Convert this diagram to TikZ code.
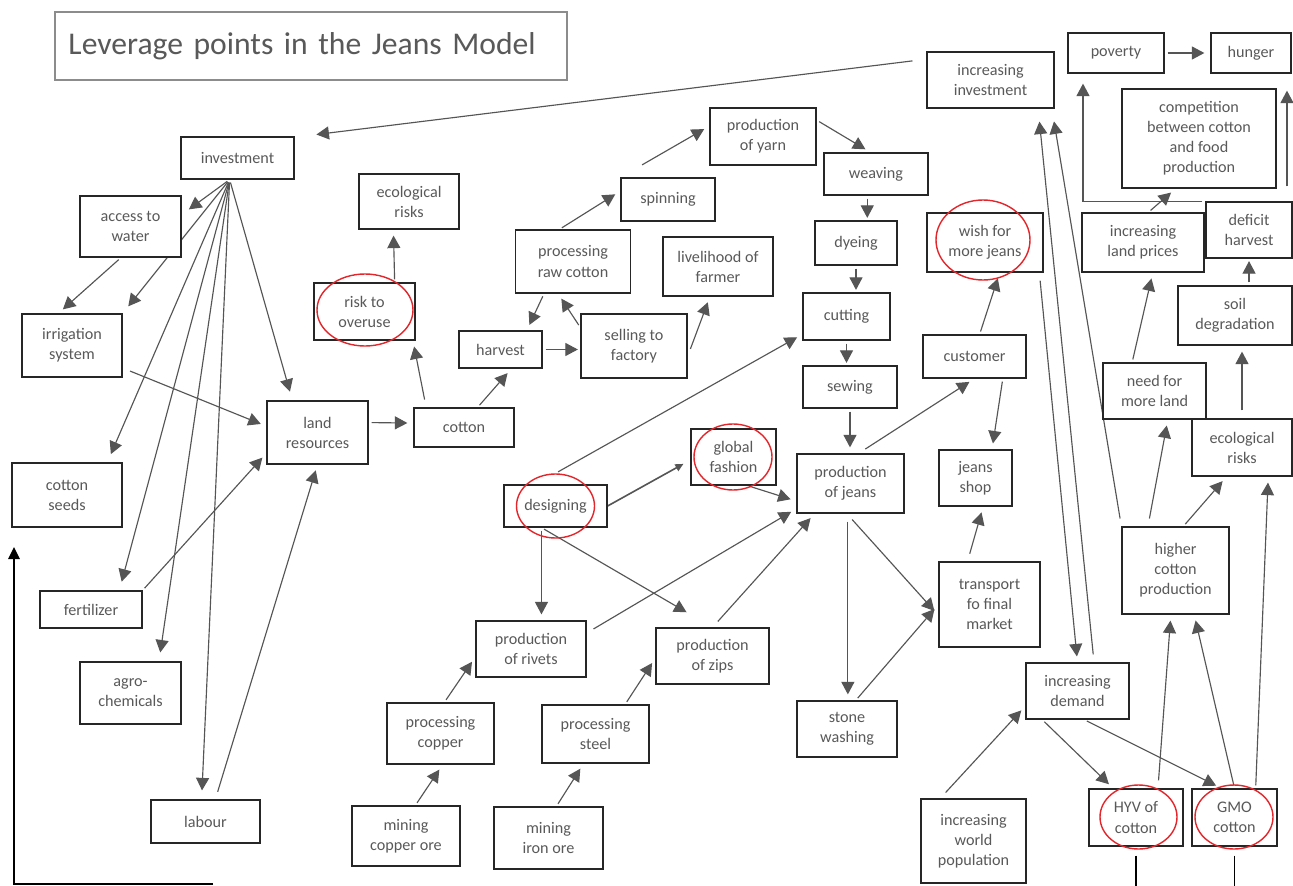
\documentclass[tikz,border=0pt]{standalone}
\usepackage{fontspec}
\setmainfont{Carlito}
\usetikzlibrary{arrows.meta,shapes.geometric,backgrounds}

\definecolor{txtgray}{HTML}{595959}
\definecolor{arrgray}{HTML}{555555}
\definecolor{ringred}{HTML}{E3262B}

\tikzset{
	box/.style={draw=black!85, line width=0.7pt, fill=white, text=txtgray, align=center, inner sep=0pt, font=\fontsize{9.2}{11.4}\selectfont},
	sz/.style 2 args={minimum width=#1*0.2mm, minimum height=#2*0.2mm},
	titlebox/.style={draw=black!45, line width=1.1pt, text=txtgray, font=\fontsize{18}{22}\selectfont, inner xsep=2.6mm, text width=97mm, align=left},
	ring/.style={draw=ringred, line width=0.8pt, ellipse, inner sep=0pt},
	arr/.style={draw=arrgray, line width=0.65pt, -{Triangle[length=2.5mm,width=2.6mm]}, shorten >=1.2mm, shorten <=0.6mm},
	thinarr/.style={draw=arrgray, line width=0.9pt, -{Triangle[length=1.6mm,width=1.5mm]}, shorten >=1.6mm},
	latestart/.style={shorten <=1.6mm},
	closetip/.style={shorten >=0.5mm},
	backarr/.style={draw=black, line width=0.9pt, -{Triangle[length=2.4mm,width=2.3mm]}},
	exitline/.style={draw=black, line width=0.9pt, shorten <=1.8mm},
}

\begin{document}
\begin{tikzpicture}[x=0.2mm, y=-0.2mm]
	\useasboundingbox (0,0) rectangle (1293,886);

	\node[titlebox, sz={512}{68}] (title) at (311,46) {Leverage points in the Jeans Model};

	% farm side
	\node[box, sz={113}{42}] (inv)      at (237.5,158)   {investment};
	\node[box, sz={101}{61}] (water)    at (130.5,226.5) {access to\\water};
	\node[box, sz={100}{63}] (irrig)    at (72,345.5)    {irrigation\\system};
	\node[box, sz={110}{64}] (seeds)    at (67,495)      {cotton\\seeds};
	\node[box, sz={102}{37}] (fert)     at (91,609.5)    {fertilizer};
	\node[box, sz={101}{62}] (agro)     at (130.5,693)   {agro-\\chemicals};
	\node[box, sz={109}{43}] (labour)   at (205.5,821.5) {labour};
	\node[box, sz={101}{63}] (land)     at (317.5,432.5) {land\\resources};
	\node[box, sz={100}{39}] (cotton)   at (464,427.5)   {cotton};
	\node[box, sz={100}{55}] (ecoL)     at (409,201.5)   {ecological\\risks};
	\node[box, sz={101}{57}] (overuse)  at (364.5,311.5) {risk to\\overuse};
	\node[box, sz={83}{37}]  (harvest)  at (500.5,349.5) {harvest};
	\node[box, sz={106}{64}] (sell)     at (634,346)     {selling to\\factory};
	\node[box, sz={115}{63}] (raw)      at (573,261.5)   {processing\\raw cotton};
	\node[box, sz={94}{43}]  (spin)     at (668,199.5)   {spinning};
	\node[box, sz={110}{59}] (liveli)   at (718,266.5)   {livelihood of\\farmer};
	\node[box, sz={106}{57}] (yarn)     at (763,136.5)   {production\\of yarn};

	% factory side
	\node[box, sz={104}{42}] (weave)    at (876,174)     {weaving};
	\node[box, sz={82}{44}]  (dye)      at (856,243)     {dyeing};
	\node[box, sz={87}{47}]  (cut)      at (846.5,316.5) {cutting};
	\node[box, sz={94}{42}]  (sew)      at (850,387)     {sewing};
	\node[box, sz={107}{59}] (jeans)    at (850.5,483.5) {production\\of jeans};
	\node[box, sz={85}{56}]  (fashion)  at (733.5,457)   {global\\fashion};
	\node[box, sz={103}{42}] (design)   at (555.5,506)   {designing};
	\node[box, sz={110}{56}] (rivets)   at (531,649)     {production\\of rivets};
	\node[box, sz={113}{56}] (zips)     at (712.5,656)   {production\\of zips};
	\node[box, sz={107}{61}] (copper)   at (440.5,733.5) {processing\\copper};
	\node[box, sz={107}{58}] (steel)    at (595.5,734)   {processing\\steel};
	\node[box, sz={108}{60}] (mcopper)  at (406,836)     {mining\\copper ore};
	\node[box, sz={109}{62}] (miron)    at (548.5,838)   {mining\\iron ore};
	\node[box, sz={100}{56}] (stone)    at (847,729)     {stone\\washing};
	\node[box, sz={101}{85}] (transp)   at (989.5,604.5) {transport\\fo final\\market};
	\node[box, sz={73}{56}]  (shop)     at (975.5,478)   {jeans\\shop};
	\node[box, sz={103}{43}] (cust)     at (974.5,356.5) {customer};
	\node[box, sz={116}{59}] (wish)     at (985,242.5)   {wish for\\more jeans};

	% market side
	\node[box, sz={127}{56}] (incinv)   at (990.5,80)    {increasing\\investment};
	\node[box, sz={96}{40}]  (poverty)  at (1116,53)     {poverty};
	\node[box, sz={80}{40}]  (hunger)   at (1251,53)     {hunger};
	\node[box, sz={154}{99}] (compet)   at (1199,138.5)  {competition\\between cotton\\and food\\production};
	\node[box, sz={122}{59}] (lprice)   at (1143,242.5)  {increasing\\land prices};
	\node[box, sz={86}{56}]  (deficit)  at (1249,230)    {deficit\\harvest};
	\node[box, sz={114}{59}] (soil)     at (1235,315.5)  {soil\\degradation};
	\node[box, sz={103}{56}] (moreland) at (1154.5,391)  {need for\\more land};
	\node[box, sz={100}{57}] (ecoR)     at (1242,447.5)  {ecological\\risks};
	\node[box, sz={107}{87}] (higher)   at (1175.5,570.5) {higher\\cotton\\production};
	\node[box, sz={103}{56}] (demand)   at (1077.5,691)  {increasing\\demand};
	\node[box, sz={105}{84}] (world)    at (973.5,841)   {increasing\\world\\population};
	\node[box, sz={94}{57}]  (hyv)      at (1136,817.5)  {HYV of\\cotton};
	\node[box, sz={85}{57}]  (gmo)      at (1234.5,817.5) {GMO\\cotton};

	% leverage points
	\node[ring, sz={96}{72}] (overuseRing) at (365,310)    {};
	\node[ring, sz={78}{66}] (fashionRing) at (733,457)    {};
	\node[ring, sz={78}{64}] (designRing)  at (555.5,506)  {};
	\node[ring, sz={94}{80}] (wishRing)    at (983,240)    {};
	\node[ring, sz={77}{64}] (hyvRing)     at (1138.5,817) {};
	\node[ring, sz={78}{64}] (gmoRing)     at (1234,817)   {};

	\coordinate (loopStart) at (213,884);
	\coordinate (loopEnd)   at (14,547);
	\coordinate (bottomEdge) at (0,886);

	\begin{pgfonlayer}{background}
		\fill[white] (0,0) rectangle (1293,886);

		\foreach \v in {water.13, irrig.north east, seeds.39, fert.34, agro.48, labour.100, land.128}  % out of investment
		{	\draw[arr, shorten >=1.8mm] (inv.-110) -- (\v);
		}
		\def\closestart {water.-107/irrig.113, fert.north east/land.-158, land.11/cotton.175, overuse.44/ecoL.-119,
			cotton.56/harvest.-60, raw.-132/harvest.36, sell.161/raw.-115, raw.113/spin.170, yarn.17/weave.104,
			designRing.north/cut.-158, fashion.-64/jeans.-162, copper.83/rivets.-172, steel.45/zips.-178,
			mcopper.73/copper.-86, miron.76/steel.-112, stone.73/transp.west, cust.-38/shop.60, cust.77/wish.-64,
			demand.-141/hyv.128, demand.-77/gmo.114, gmo.north/higher.-67, gmo.54/ecoR.-48, higher.80/ecoR.-118,
			moreland.128/lprice.-72, lprice.80/compet.-115}  % line starts at the box
		\foreach \u/\v in \closestart
		{	\draw[arr] (\u) -- (\v);
		}
		\def\gapstart {irrig.-24/land.173, labour.66/land.south, cotton.152/overuse.-31, sell.-11/liveli.-105,
			rivets.16/jeans.-155, zips.north/jeans.-140, jeans.75/cust.south, jeans.-97/transp.-168,
			hyv.53/higher.-96, higher.122/moreland.-65, transp.117/shop.-75, world.128/demand.-164,
			wish.-29/demand.north}  % line starts away from the box
		\foreach \u/\v in \gapstart
		{	\draw[arr, latestart] (\u) -- (\v);
		}

		\draw[arr, shorten <=5mm] (spin.north west) -- (yarn.169);
		\draw[arr, shorten >=6mm] (design.-123) -- (zips.north);
		\draw[arr] (design.-123) -- (design.-123 |- rivets.north);
		\draw[thinarr] (design.east) -- (fashion.-176);
		\draw[arr, closetip] (harvest.east) -- (harvest.east -| sell.west);

		% straight down the factory
		\draw[arr, closetip] (weave.-112) -- (weave.-112 |- dye.north);
		\draw[arr, closetip] (dye.south) -- (dye.south |- cut.north);
		\draw[arr, closetip] (cut.south) -- (cut.south |- sew.north);
		\draw[arr] (sew.south) -- (sew.south |- jeans.north);
		\draw[arr, latestart] (jeans.-95) -- (jeans.-95 |- stone.north);

		\draw[arr, latestart] (ecoR.north) -- (ecoR.north |- soil.south);
		\draw[arr, closetip] (soil.65) -- (soil.65 |- deficit.south);
		\draw[arr, shorten >=2mm] (deficit.north west) -| (poverty.-148);
		\draw[arr, shorten <=3mm, shorten >=3.4mm] (deficit.37) -- (deficit.37 |- hunger.south);
		\draw[arr] (poverty.east) -- (hunger.west);

		\draw[arr, latestart, shorten >=2.6mm] (higher.north west) -- (incinv.-25);
		\draw[arr, latestart, shorten >=2.6mm] (demand.60) -- (incinv.-31);
		\draw[arr, shorten <=2.8mm, shorten >=4.4mm] (incinv.162) -- (inv.20);

		\draw[backarr] (loopStart) -| (loopEnd);
		\draw[exitline] (hyv.south) -- (hyv.south |- bottomEdge);
		\draw[exitline] (gmo.south) -- (gmo.south |- bottomEdge);
	\end{pgfonlayer}
\end{tikzpicture}
\end{document}
